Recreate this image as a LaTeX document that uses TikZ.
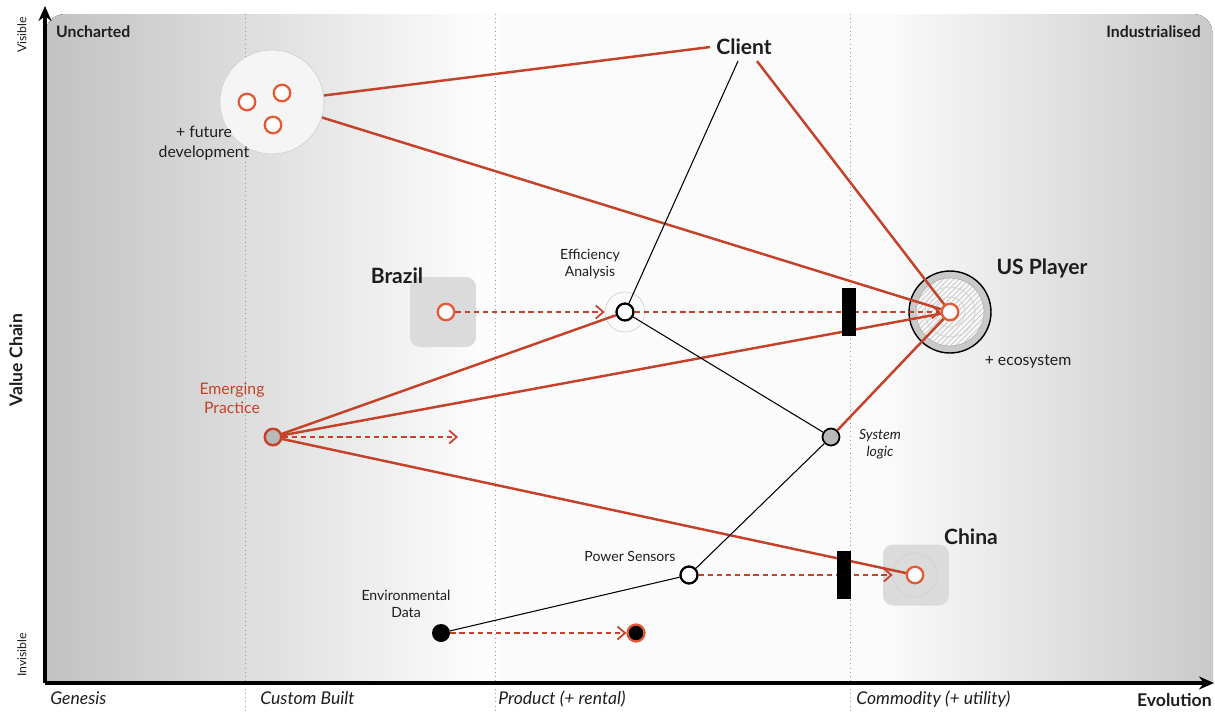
\documentclass[tikz,border=0pt]{standalone}
\usepackage{fontspec}
\setmainfont{Lato}
\usepackage{tikz}
\usetikzlibrary{arrows.meta, positioning, patterns}

\definecolor{wred}{RGB}{196,66,42}
\definecolor{worange}{RGB}{228,90,54}
\definecolor{ink}{RGB}{30,30,30}

\begin{document}
\begin{tikzpicture}[
  x=0.02cm, y=-0.02cm,
  node distance = 2mm and 3mm,
  comp/.style = {circle, draw=worange, line width=1.3pt, fill=white, minimum size=3.3mm, inner sep=0pt},
  known/.style = {circle, draw=black, line width=1.3pt, fill=white, minimum size=3.4mm, inner sep=0pt},
  halo/.style = {circle, draw=gray!35, thin, inner sep=0pt},
  tag/.style = {font=\footnotesize, align=center, text=ink},
  big/.style = {font=\large\bfseries, text=ink},
  link/.style = {wred, line width=1.4pt},
  dep/.style = {black, line width=0.6pt},
  move/.style = {-{Straight Barb[length=1.5mm, width=2.6mm]}, wred, line width=1pt, dash pattern=on 3pt off 2.2pt},
  bar/.style = {rectangle, fill=black, minimum width=2.8mm, minimum height=9.6mm, inner sep=0pt},
  market/.style = {rectangle, rounded corners=2mm, fill=gray!28, inner sep=0pt},
  stage/.style = {font=\itshape, anchor=base west, text=ink, inner sep=0pt},
  phase/.style = {dotted, gray!80, thin}
]
  \useasboundingbox (0,0) rectangle (1215,711);

  % background of the map
  \begin{scope}
    \clip[rounded corners=4mm] (45,14) rectangle (1213,740);
    \fill[left color=gray!48, right color=white] (45,14) rectangle (500,683);
    \fill[gray!3] (500,14) rectangle (880,683);
    \fill[left color=gray!3, right color=gray!42] (880,14) rectangle (1213,683);
  \end{scope}

  % evolution stages
  \foreach \px in {245,495,850}
    \draw[phase] (\px,14) -- (\px,711);

  % axes
  \coordinate (origin) at (45,683);
  \coordinate (ytop)   at (45,6);
  \coordinate (xend)   at (1214,683);
  \draw[-{Stealth[length=3mm, width=2.6mm]}, line width=1.8pt] (origin) -- (ytop);
  \draw[-{Stealth[length=3mm, width=2.6mm]}, line width=1.8pt] (origin) -- (xend);

  \node[font=\small\bfseries, anchor=west, text=ink] (unch) at (50,32) {Uncharted};
  \node[font=\small\bfseries, anchor=east, text=ink] (indu) at (1207,32) {Industrialised};
  \node[rotate=90, font=\scriptsize, text=ink] (vis) at (22,35) {Visible};
  \node[rotate=90, font=\scriptsize, text=ink] (invis) at (22,655) {Invisible};
  \node[rotate=90, font=\bfseries, text=ink] (vchain) at (16,360) {Value Chain};

  \node[stage] (gen)  at (50,704)  {Genesis};
  \node[stage] (cust) at (260,704) {Custom Built};
  \node[stage] (prod) at (498,704) {Product (+ rental)};
  \node[stage] (comm) at (856,704) {Commodity (+ utility)};
  \node[font=\bfseries, anchor=base east, text=ink, inner sep=0pt] (evol) at (1212,706) {Evolution};

  % components
  \node[circle, draw=gray!35, fill=gray!8, minimum size=2.08cm] (fut) at (272,102) {};
  \node[comp] (f1) at (247,102) {};
  \node[comp] (f2) at (282,93)  {};
  \node[comp] (f3) at (273,125) {};
  \node[tag, font=\small] (futlbl) at (204,143) {+ future\\development};

  \node[big] (client) at (744,47) {Client};

  \node[market, minimum width=1.32cm, minimum height=1.4cm] (brbox) at (443,312) {};
  \node[comp] (brazil) at (446,312) {};
  \node[big] (brlbl) at (397,276) {Brazil};

  \node[halo, minimum size=8mm] (effh) at (625,312) {};
  \node[known] (eff) at (625,312) {};
  \node[tag] (efflbl) at (590,264) {Efficiency\\Analysis};

  \node[circle, draw=black, thick, fill=gray!42, minimum size=1.64cm] (usring) at (950,312) {};
  \node[circle, fill=gray!6, minimum size=1.36cm] (usfill) at (950,312) {};
  \node[circle, draw=gray!60, pattern=north east lines, pattern color=gray!45, minimum size=1.36cm] (ushatch) at (950,312) {};
  \node[halo, minimum size=1cm] (ush1) at (950,312) {};
  \node[halo, minimum size=6mm] (ush2) at (950,312) {};
  \node[comp] (us) at (950,312) {};
  \node[big] (uslbl) at (1042,268) {US Player};
  \node[tag, font=\small] (ecolbl) at (1028,362) {+ ecosystem};

  \node[circle, draw=wred, line width=1.4pt, fill=gray!55, minimum size=3.3mm, inner sep=0pt] (ep) at (273,437) {};
  \node[tag, font=\small, text=wred] (eplbl) at (232,398) {Emerging\\Practice};
  \coordinate (epnext) at (458,437);

  \node[circle, draw=black, line width=1pt, fill=gray!55, minimum size=3.4mm, inner sep=0pt] (sys) at (831,437) {};
  \node[tag, font=\footnotesize\itshape] (syslbl) at (880,444) {System\\logic};

  \node[market, minimum width=1.32cm, minimum height=1.22cm] (cnbox) at (916,575) {};
  \node[halo, minimum size=8.8mm] (cnh) at (915,575) {};
  \node[comp] (china) at (915,575) {};
  \node[big] (cnlbl) at (971,537) {China};

  \node[known] (pow) at (689,575) {};
  \node[tag] (powlbl) at (630,556) {Power Sensors};

  \node[circle, fill=black, minimum size=3.6mm, inner sep=0pt] (env) at (441,633) {};
  \node[tag] (envlbl) at (406,604) {Environmental\\Data};
  \node[circle, draw=worange, line width=1.3pt, fill=black, minimum size=3.4mm, inner sep=0pt] (envnext) at (636,633) {};

  % value chain links
  \draw[link] (fut) -- (client.west);
  \draw[link] (fut) -- (us);
  \draw[dep]  ([xshift=-1.2mm]client.south) -- (eff);
  \draw[link] ([xshift=2.6mm]client.south) -- (us);
  \draw[link] (ep) -- (eff);
  \draw[link] (ep) -- (us);
  \draw[link] (ep) -- (china);
  \draw[dep]  (eff) -- (sys);
  \draw[link] (sys) -- (us);
  \draw[dep]  (pow) -- (sys);
  \draw[dep]  (env) -- (pow);

  % movement
  \draw[move] (brazil) -- (effh);
  \draw[move] (eff) -- (us);
  \draw[move] (ep) -- (epnext);
  \draw[move] (pow) -- (cnh);
  \draw[move] (env) -- (envnext);

  % inertia
  \node[bar] (bar1) at (849,312) {};
  \node[bar] (bar2) at (844,575) {};
\end{tikzpicture}
\end{document}
